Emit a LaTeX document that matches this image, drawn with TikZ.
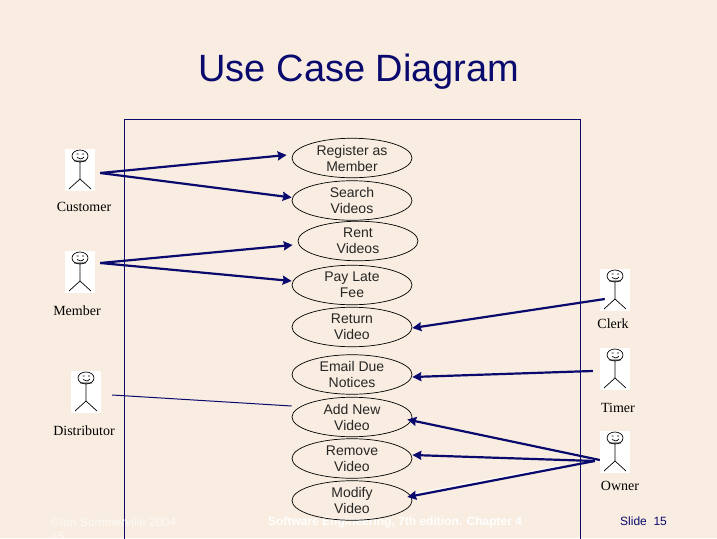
\documentclass[tikz,border=0pt]{standalone}
\usepackage{fontspec}
\setmainfont{Liberation Sans}
\newfontfamily\serifact{Liberation Serif}
\usetikzlibrary{calc,arrows.meta,shapes.geometric}
\definecolor{pagebg}{HTML}{F8EDE0}
\definecolor{navyline}{HTML}{0A0A6E}
\tikzset{
  x=1pt,y=-1pt,
  usecase/.style={draw=black,line width=0.7pt,ellipse,minimum width=120pt,minimum height=39.5pt,inner sep=0pt,align=center,
    font=\fontsize{14}{16}\selectfont,text=black!85},
  actorbox/.style={fill=white,minimum width=30pt,minimum height=42pt,inner sep=0pt},
  actorname/.style={font=\serifact\fontsize{14}{16}\selectfont,inner sep=0pt},
  assoc/.style={draw=navyline,line width=2.2pt,-{Stealth[length=9pt,width=9pt,inset=1pt]}},
  plainassoc/.style={draw=navyline,line width=1pt},
  foot/.style={font=\fontsize{12}{14}\selectfont,text=white,inner sep=0pt,anchor=west},
  pics/stick/.style={code={
    \draw[black,line width=0.7pt] (0,-14) ellipse [x radius=8,y radius=6];
    \draw[black,line width=0.7pt] (-3.5,-16)--(-1.5,-16) (2,-16)--(4,-16) (-3,-12.5) .. controls (-1,-10.5) and (2,-10.5) .. (4,-13);
    \draw[black,line width=0.7pt] (-6,-9)--(6,-9) (0,-9)--(0,9) (-11,19)--(0,9)--(11,19);
  }}
}
\begin{document}
\begin{tikzpicture}
\clip (0,0) rectangle (717,538);
\fill[pagebg] (0,0) rectangle (717,538);
\node[font=\fontsize{38}{42}\selectfont,text=navyline] (title) at (359,71.5) {Use Case Diagram};
\coordinate (boxbl) at (124.5,545);
\coordinate (boxtr) at (580,119.5);
\draw[navyline,line width=1pt] (boxbl) rectangle (boxtr);
% actors
\node[actorbox] (cust) at (80,170) {};
\node[actorbox] (memb) at (80,272) {};
\node[actorbox] (dist) at (86,392) {};
\node[actorbox] (clerk) at (615,290) {};
\node[actorbox] (timer) at (615,369) {};
\node[actorbox] (owner) at (615,452) {};
\foreach \a in {cust,memb,dist,clerk,timer,owner} \pic at (\a) {stick};
\node[actorname] (custl) at (84,207) {Customer};
\node[actorname] (membl) at (77,311) {Member};
\node[actorname] (distl) at (84,431) {Distributor};
\node[actorname] (clerkl) at (613,324) {Clerk};
\node[actorname] (timerl) at (618,408) {Timer};
\node[actorname] (ownerl) at (620,486) {Owner};
% footer
\node[foot,opacity=.7] (fa) at (51,522.5) {©Ian Sommerville 2004};
\node[foot,opacity=.7] (fb) at (51,536) {15};
\node[foot,font=\fontsize{12}{14}\selectfont\bfseries] (fc) at (268,522.5) {Software Engineering, 7th edition. Chapter 4};
\node[foot,text=navyline] (fd) at (620,521) {Slide\ \ 15};
% use cases
\node[usecase] (reg) at (352,158) {Register as\\Member};
\node[usecase] (search) at (352,200.5) {Search\\Videos};
\node[usecase] (rent) at (358,241) {Rent\\Videos};
\node[usecase] (pay) at (352,285) {Pay Late\\Fee};
\node[usecase] (ret) at (352,327) {Return\\Video};
\node[usecase] (email) at (352,374.5) {Email Due\\Notices};
\node[usecase] (add) at (352,417) {Add New\\Video};
\node[usecase] (remove) at (352,458.5) {Remove\\Video};
\node[usecase] (modify) at (352,500.5) {Modify\\Video};
% associations
\draw[assoc] ($(cust.east)+(5,3)$) -- ($(reg.west)+(-5,-3)$);
\draw[assoc] ($(cust.east)+(5,3)$) -- ($(search.west)+(0,-3)$);
\draw[assoc] ($(memb.east)+(5,-9)$) -- ($(rent.west)+(-5,4)$);
\draw[assoc] ($(memb.east)+(5,-9)$) -- ($(pay.west)+(0,-4)$);
\draw[plainassoc] ($(dist.east)+(11,3)$) -- ($(add.west)+(0,-11)$);
\draw[assoc] ($(clerk.west)+(5,9)$) -- ($(ret.east)+(0,1)$);
\draw[assoc] ($(timer.west)+(-7,2)$) -- ($(email.east)+(0,2.5)$);
\draw[white,line width=1pt] ($(owner.west)+(-40,14)$) -- ($(modify.east)+(2,-7)$);
\draw[assoc] ($(owner.west)+(0,8)$) -- ($(add.east)+(-5,2.5)$);
\draw[assoc] ($(owner.west)+(-5,9)$) -- ($(remove.east)+(0,-3.5)$);
\draw[assoc] ($(owner.west)+(-5,9)$) -- ($(modify.east)+(-5,-3.5)$);
\end{tikzpicture}
\end{document}
